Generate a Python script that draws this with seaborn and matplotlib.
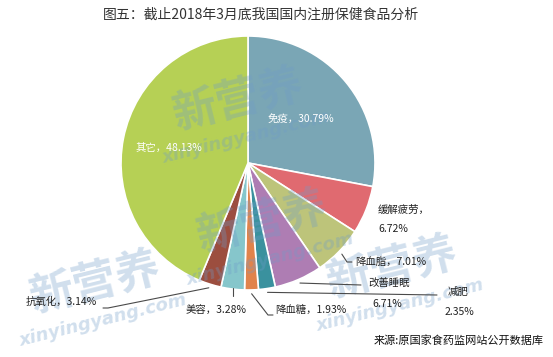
import numpy as np
import matplotlib
matplotlib.use("Agg")
import matplotlib.pyplot as plt
import seaborn as sns

# ---------------- data ----------------
categories = ["免疫", "缓解疲劳", "降血脂", "改善睡眠", "减肥", "降血糖", "美容", "抗氧化", "其它"]
shares = [30.79, 6.72, 7.01, 6.71, 2.35, 1.93, 3.28, 3.14, 48.13]
pct_labels = ["30.79%", "6.72%", "7.01%", "6.71%", "2.35%", "1.93%", "3.28%", "3.14%", "48.13%"]
colors = ["#7AA6B5", "#E06A70", "#BDC47A", "#AE7DB3", "#3A919E", "#E0834C", "#86C6CB", "#9C4E3F", "#B6D055"]
title = "图五：截止2018年3月底我国国内注册保健食品分析"
source = "来源:原国家食药监网站公开数据库"

# ---------------- style ----------------
sns.set_theme(style="white")
plt.rcParams["font.family"] = ["Noto Sans CJK SC", "DejaVu Sans"]

W, H = 553, 357
fig = plt.figure(figsize=(W / 100, H / 100), dpi=100)
fig.patch.set_facecolor("white")

# pie geometry in pixels
CX, CY, R = 248, 163, 127
ax = fig.add_axes([(CX - R) / W, 1 - (CY + R) / H, 2 * R / W, 2 * R / H])
wedges, _ = ax.pie(shares, colors=sns.color_palette(colors), startangle=90,
                   counterclock=False,
                   wedgeprops=dict(edgecolor="white", linewidth=1.2))
ax.set_xlim(-1, 1)
ax.set_ylim(-1, 1)
ax.set_axis_off()

# overlay in pixel coordinates
ov = fig.add_axes([0, 0, 1, 1], facecolor="none")
ov.set_xlim(0, W)
ov.set_ylim(H, 0)
ov.set_axis_off()

# watermark
for (wx, wy) in [(95, 283), (262, 222), (238, 100), (392, 268)]:
    ov.text(wx, wy, "新营养", fontsize=32, fontweight="bold", color="#6F9CC8",
            alpha=0.32, rotation=14, ha="center", va="center", zorder=1)
    ov.text(wx + 8, wy + 37, "xinyingyang.com", fontsize=13, fontweight="bold",
            fontstyle="italic", color="#6F9CC8", alpha=0.32, rotation=14,
            ha="center", va="center", zorder=1, family=["DejaVu Sans"])

def edge_point(i, r=1.03):
    w = wedges[i]
    mid = np.deg2rad((w.theta1 + w.theta2) / 2)
    return CX + R * r * np.cos(mid), CY - R * r * np.sin(mid)

LC = "#4a4a4a"
TC = "#222222"
FS = 7.5

# inside labels
ov.text(301, 119, f"{categories[0]}，{pct_labels[0]}", color="white", fontsize=FS,
        ha="center", va="center", zorder=5)
ov.text(169, 148, f"{categories[8]}，{pct_labels[8]}", color="white", fontsize=FS,
        ha="center", va="center", zorder=5)

# 缓解疲劳
ov.text(378, 210, f"{categories[1]}，", color=TC, fontsize=FS, ha="left", va="center", zorder=5)
ov.text(378, 229, pct_labels[1], color=TC, fontsize=FS, ha="left", va="center", zorder=5)

# 降血脂
sx, sy = edge_point(2)
ov.plot([sx, 347, 352], [sy, 262, 262], color=LC, lw=0.8, zorder=4)
ov.text(355, 262, f"{categories[2]}，{pct_labels[2]}", color=TC, fontsize=FS,
        ha="left", va="center", zorder=5)

# 改善睡眠
sx, sy = edge_point(3)
ov.plot([sx, 361], [sy, 285], color=LC, lw=0.8, zorder=4)
ov.text(389, 283, categories[3], color=TC, fontsize=FS, ha="center", va="center", zorder=5)
ov.text(387, 304, pct_labels[3], color=TC, fontsize=FS, ha="center", va="center", zorder=5)

# 减肥
sx, sy = edge_point(4)
ov.plot([sx, 437], [sy, 295], color=LC, lw=0.8, zorder=4)
ov.text(458, 292, categories[4], color=TC, fontsize=FS, ha="center", va="center", zorder=5)
ov.text(459, 312, pct_labels[4], color=TC, fontsize=FS, ha="center", va="center", zorder=5)

# 降血糖
sx, sy = edge_point(5)
ov.plot([sx, 268, 273], [sy, 315, 315], color=LC, lw=0.8, zorder=4)
ov.text(275, 310, f"{categories[5]}，{pct_labels[5]}", color=TC, fontsize=FS,
        ha="left", va="center", zorder=5)

# 美容
sx, sy = edge_point(6, r=0.99)
ov.plot([sx, sx], [sy, 296], color=LC, lw=0.8, zorder=4)
ov.text(186, 310, f"{categories[6]}，{pct_labels[6]}", color=TC, fontsize=FS,
        ha="left", va="center", zorder=5)

# 抗氧化
sx, sy = edge_point(7)
ov.plot([sx, 108, 103], [sy, 308, 308], color=LC, lw=0.8, zorder=4)
ov.text(26, 302, f"{categories[7]}，{pct_labels[7]}", color=TC, fontsize=FS,
        ha="left", va="center", zorder=5)

# title & source
ov.text(261, 15, title, fontsize=10, color="#333333", ha="center", va="center", zorder=5)
ov.text(544, 341, source, fontsize=8, color="#111111", ha="right", va="center", zorder=5)

fig.savefig("out.png", dpi=100, facecolor="white")
